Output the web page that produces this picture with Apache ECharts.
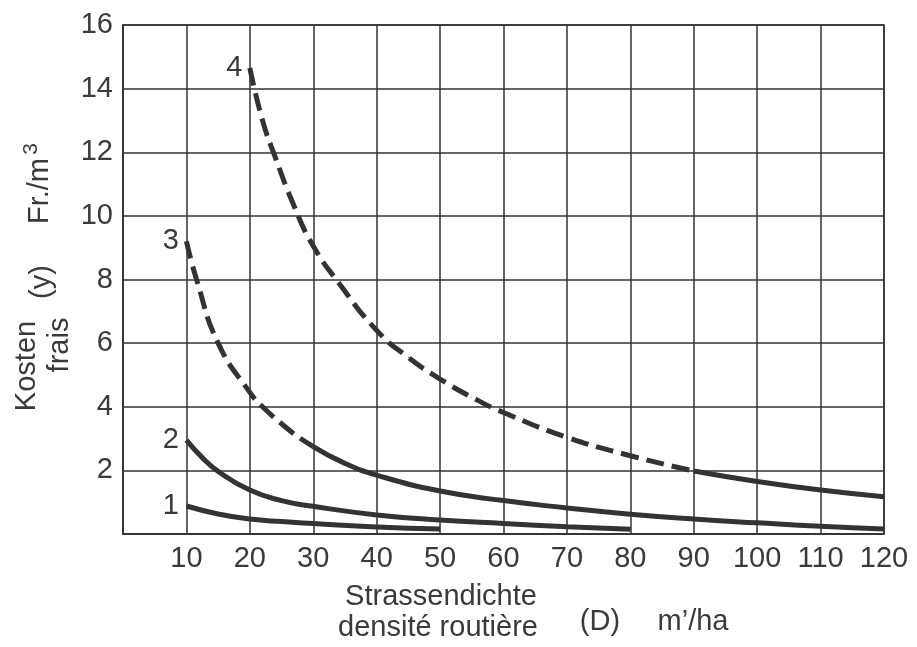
<!DOCTYPE html>
<html><head><meta charset="utf-8">
<script src="https://cdn.jsdelivr.net/npm/echarts@6/dist/echarts.min.js"></script>
<style>html,body{margin:0;padding:0;background:#fff}#c{width:917px;height:647px}</style>
</head><body><div id="c"></div>
<script>
// ---- data ----
const curveNames = ['1', '2', '3', '4'];
const curve1X = [10, 15, 20, 25, 30, 40, 50];
const curve1Y = [0.88, 0.63, 0.47, 0.39, 0.33, 0.22, 0.16];
const curve2X = [10, 12.5, 15, 20, 25, 30, 40, 50, 60, 70, 80];
const curve2Y = [2.95, 2.4, 1.97, 1.38, 1.05, 0.87, 0.6, 0.44, 0.33, 0.23, 0.15];
const curve3DashX = [10, 11.6, 15, 20, 22, 26, 28, 30];
const curve3DashY = [9.2, 8.0, 6.0, 4.45, 4.0, 3.3, 3.0, 2.75];
const curve3SolidX = [30, 35, 40, 50, 60, 70, 80, 90, 100, 110, 120];
const curve3SolidY = [2.75, 2.22, 1.85, 1.35, 1.05, 0.82, 0.62, 0.47, 0.35, 0.24, 0.16];
const curve4DashX = [20, 22, 24, 27, 30, 34, 40, 45, 50, 55, 60, 70, 80, 90];
const curve4DashY = [14.65, 13.0, 11.85, 10.3, 9.05, 7.9, 6.4, 5.55, 4.87, 4.3, 3.82, 3.04, 2.46, 1.98];
const curve4SolidX = [90, 100, 110, 120];
const curve4SolidY = [1.98, 1.65, 1.38, 1.17];
const xTickMin = 0, xTickMax = 120, xTickStep = 10;
const yTickMin = 0, yTickMax = 16, yTickStep = 2;

const FONT = '"Liberation Sans", Arial, Helvetica, sans-serif';
const INK = '#333';
const TXT = '#3a3a3a';
const FS = 29;

function pairs(xs, ys, name) {
  return xs.map((x, i) => {
    if (i === 0 && name) {
      return { value: [x, ys[i]], label: { show: true, position: 'left', distance: 7, formatter: name,
        fontSize: FS, fontFamily: FONT, color: TXT } };
    }
    return [x, ys[i]];
  });
}
function line(xs, ys, name, dashed) {
  return {
    type: 'line', data: pairs(xs, ys, name), smooth: 0.5,
    symbol: 'circle', symbolSize: 1, showSymbol: true, itemStyle: { color: INK },
    lineStyle: { color: INK, width: 5, type: dashed ? [18, 8] : 'solid', cap: 'butt' },
    label: { show: false }, silent: true, z: 5
  };
}
function txt(x, y, text, rot, size) {
  return { type: 'text', x: x, y: y, rotation: rot ? Math.PI / 2 : 0,
    style: { text: text, font: (size || FS) + 'px ' + FONT, fill: TXT,
      align: 'center', verticalAlign: 'middle', textAlign: 'center', textVerticalAlign: 'middle' } };
}

const chart = echarts.init(document.getElementById('c'), null, { renderer: 'canvas' });
chart.setOption({
  animation: false,
  backgroundColor: '#fff',
  grid: { left: 123, right: 33, top: 25, bottom: 113, show: true, borderColor: INK, borderWidth: 1.5 },
  xAxis: {
    type: 'value', min: xTickMin, max: xTickMax, interval: xTickStep,
    axisLine: { lineStyle: { color: INK, width: 1.5 } },
    axisTick: { show: false },
    splitLine: { show: true, lineStyle: { color: INK, width: 1.5 } },
    axisLabel: { fontSize: FS, fontFamily: FONT, color: TXT, margin: 10,
      formatter: v => (v === 0 ? '' : String(v)) }
  },
  yAxis: {
    type: 'value', min: yTickMin, max: yTickMax, interval: yTickStep,
    axisLine: { lineStyle: { color: INK, width: 1.5 } },
    axisTick: { show: false },
    splitLine: { show: true, lineStyle: { color: INK, width: 1.5 } },
    axisLabel: { fontSize: FS, fontFamily: FONT, color: TXT, margin: 10,
      formatter: v => (v === 0 ? '' : String(v)) }
  },
  series: [
    line(curve1X, curve1Y, curveNames[0], false),
    line(curve2X, curve2Y, curveNames[1], false),
    line(curve3DashX, curve3DashY, curveNames[2], true),
    line(curve3SolidX, curve3SolidY, null, false),
    line(curve4DashX, curve4DashY, curveNames[3], true),
    line(curve4SolidX, curve4SolidY, null, false)
  ],
  graphic: [
    txt(27, 366, 'Kosten', true),
    txt(60, 345, 'frais', true),
    txt(42, 282, '(y)', true),
    txt(40, 191, 'Fr./m', true),
    txt(31, 149, '3', true, 21),
    txt(441, 597, 'Strassendichte'),
    txt(438, 628, 'densité routière'),
    txt(600, 622, '(D)'),
    txt(693, 622, 'm’/ha')
  ]
});
</script></body></html>
